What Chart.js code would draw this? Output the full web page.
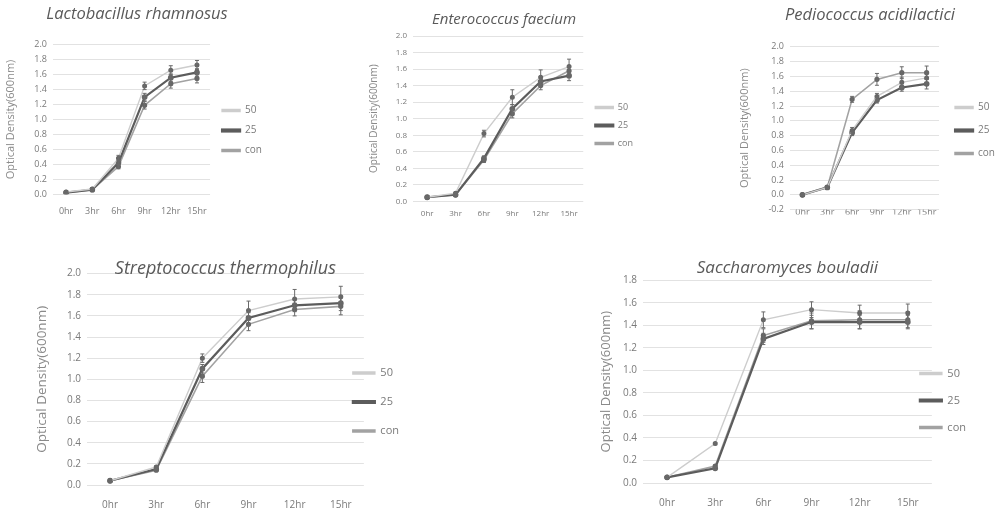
<!DOCTYPE html>
<html>
<head>
<meta charset="utf-8">
<script src="https://cdn.jsdelivr.net/npm/chart.js@4.4.0/dist/chart.umd.min.js"></script>
<style>
body { margin: 0; background: #fff; }
#hoja { position: relative; width: 1002px; height: 516px; overflow: hidden; filter: blur(0.5px); }
canvas { position: absolute; }
</style>
</head>
<body>
<div id="hoja">
  <canvas id="g1" width="280" height="225" style="left:0px;top:0px"></canvas>
  <canvas id="g2" width="330" height="225" style="left:330px;top:0px"></canvas>
  <canvas id="g3" width="322" height="221" style="left:680px;top:0px"></canvas>
  <canvas id="g4" width="520" height="276" style="left:0px;top:240px"></canvas>
  <canvas id="g5" width="462" height="276" style="left:540px;top:240px"></canvas>
</div>
<script>
const horas = ['0hr', '3hr', '6hr', '9hr', '12hr', '15hr'];
const etiquetas = ['50', '25', 'con'];

// Lactobacillus rhamnosus
const lr50 = [0.03, 0.07, 0.48, 1.45, 1.66, 1.73];
const lr25 = [0.02, 0.06, 0.42, 1.30, 1.56, 1.63];
const lrCon = [0.02, 0.06, 0.37, 1.19, 1.48, 1.55];
const lr50Err = [0.01, 0.01, 0.04, 0.05, 0.06, 0.06];
const lr25Err = [0.01, 0.01, 0.03, 0.05, 0.05, 0.05];
const lrConErr = [0.01, 0.01, 0.03, 0.05, 0.06, 0.06];

// Enterococcus faecium
const ef50 = [0.05, 0.10, 0.82, 1.26, 1.50, 1.63];
const ef25 = [0.05, 0.08, 0.52, 1.12, 1.45, 1.52];
const efCon = [0.05, 0.08, 0.50, 1.06, 1.40, 1.58];
const ef50Err = [0.01, 0.01, 0.04, 0.09, 0.09, 0.09];
const ef25Err = [0.01, 0.01, 0.03, 0.05, 0.06, 0.06];
const efConErr = [0.01, 0.01, 0.03, 0.05, 0.05, 0.05];

// Pediococcus acidilactici
const pa50 = [0.00, 0.10, 0.87, 1.33, 1.52, 1.58];
const pa25 = [0.00, 0.10, 0.84, 1.28, 1.45, 1.50];
const paCon = [0.00, 0.10, 1.29, 1.56, 1.65, 1.65];
const pa50Err = [0.01, 0.01, 0.04, 0.04, 0.07, 0.08];
const pa25Err = [0.01, 0.01, 0.04, 0.04, 0.05, 0.07];
const paConErr = [0.01, 0.01, 0.04, 0.08, 0.08, 0.09];

// Streptococcus thermophilus
const st50 = [0.04, 0.17, 1.20, 1.65, 1.76, 1.78];
const st25 = [0.04, 0.15, 1.10, 1.58, 1.70, 1.72];
const stCon = [0.04, 0.14, 1.03, 1.52, 1.66, 1.69];
const st50Err = [0.01, 0.01, 0.04, 0.09, 0.09, 0.10];
const st25Err = [0.01, 0.01, 0.04, 0.05, 0.06, 0.07];
const stConErr = [0.01, 0.01, 0.06, 0.06, 0.06, 0.08];

// Saccharomyces bouladii
const sb50 = [0.05, 0.35, 1.45, 1.54, 1.51, 1.51];
const sb25 = [0.05, 0.13, 1.28, 1.43, 1.43, 1.43];
const sbCon = [0.05, 0.15, 1.31, 1.44, 1.45, 1.45];
const sb50Err = [0.01, 0.01, 0.07, 0.07, 0.07, 0.08];
const sb25Err = [0.01, 0.01, 0.05, 0.06, 0.06, 0.06];
const sbConErr = [0.01, 0.01, 0.06, 0.07, 0.08, 0.07];

const colores = ['#cdcdcd', '#5c5c5c', '#a2a2a2'];
const grosores = [1.4, 2.2, 1.6];

// barras de error (no vienen en Chart.js)
const barrasError = {
    id: 'barrasError',
    afterDatasetsDraw(chart) {
        const ctx = chart.ctx;
        const y = chart.scales.y;
        chart.data.datasets.forEach((ds, i) => {
            const meta = chart.getDatasetMeta(i);
            ctx.save();
            ctx.strokeStyle = '#6a6a6a';
            ctx.lineWidth = 1;
            meta.data.forEach((pt, j) => {
                const e = ds.err[j];
                const arriba = y.getPixelForValue(ds.data[j] + e);
                const abajo = y.getPixelForValue(ds.data[j] - e);
                ctx.beginPath();
                ctx.moveTo(pt.x, arriba); ctx.lineTo(pt.x, abajo);
                ctx.moveTo(pt.x - 2, arriba); ctx.lineTo(pt.x + 2, arriba);
                ctx.moveTo(pt.x - 2, abajo); ctx.lineTo(pt.x + 2, abajo);
                ctx.stroke();
            });
            ctx.restore();
        });
    }
};

// corre la leyenda unos pixeles respecto a donde la pone Chart.js
const corrLeyenda = {
    id: 'corrLeyenda',
    afterLayout(chart, args, opts) {
        const l = chart.legend;
        l.left += opts.dx; l.right += opts.dx;
        l.top += opts.dy; l.bottom += opts.dy;
    }
};

const muestraGrafica = function (id, titulo, valores, errores, op) {
    const ctx = document.getElementById(id).getContext('2d');
    const fuente = 'Open Sans';
    const datasets = valores.map((v, i) => ({
        label: etiquetas[i],
        data: v,
        err: errores[i],
        borderColor: colores[i],
        backgroundColor: colores[i],
        borderWidth: grosores[i],
        pointRadius: 1.8,
        pointBorderColor: '#666',
        pointBackgroundColor: '#666',
        tension: 0
    }));
    return new Chart(ctx, {
        type: 'line',
        data: { labels: horas, datasets: datasets },
        plugins: [barrasError, corrLeyenda],
        options: {
            responsive: false,
            animation: false,
            layout: { padding: op.padding },
            plugins: {
                corrLeyenda: { dx: op.legDx, dy: op.legDy },
                title: {
                    display: true, text: titulo, fullSize: op.tituloAncho,
                    color: '#595959',
                    font: { family: fuente, size: op.tituloTam, style: 'italic', weight: 'normal' },
                    padding: op.tituloPad
                },
                legend: {
                    position: 'right',
                    labels: {
                        boxWidth: op.cajaAncho, boxHeight: 2,
                        color: '#7a7a7a',
                        font: { family: fuente, size: op.letra + 1 },
                        padding: op.legPad
                    }
                },
                tooltip: { enabled: false }
            },
            scales: {
                x: {
                    offset: true,
                    grid: { display: false, drawTicks: false },
                    border: { display: false },
                    ticks: { color: '#7a7a7a', font: { family: fuente, size: op.letra }, padding: op.xPad, maxRotation: 0 }
                },
                y: {
                    min: op.min, max: op.max,
                    afterFit: s => { s.width = op.yAncho; },
                    grid: { color: '#e2e2e2', drawTicks: false },
                    border: { display: false },
                    title: { display: true, text: 'Optical Density(600nm)', color: '#8a8a8a', font: { family: fuente, size: op.yTitulo }, padding: 0 },
                    ticks: { stepSize: 0.2, autoSkip: false, color: '#7a7a7a', font: { family: fuente, size: op.letra }, padding: 6,
                             callback: v => v.toFixed(1) }
                }
            }
        }
    });
};

muestraGrafica('g1', 'Lactobacillus rhamnosus', [lr50, lr25, lrCon], [lr50Err, lr25Err, lrConErr],
    { min: 0, max: 2, padding: { left: 4, right: 10, top: 4, bottom: -4 }, yAncho: 49, yTitulo: 11, tituloTam: 16.5, tituloAncho: true, tituloPad: { top: 0, bottom: 21 },
      letra: 9, xPad: 12, cajaAncho: 18, legPad: 10, legDx: 2, legDy: 14 });
muestraGrafica('g2', 'Enterococcus faecium', [ef50, ef25, efCon], [ef50Err, ef25Err, efConErr],
    { min: 0, max: 2, padding: { left: 38, right: 20, top: 10, bottom: -2 }, yAncho: 45, yTitulo: 10, tituloTam: 15, tituloAncho: true, tituloPad: { top: 1, bottom: 7 },
      letra: 8, xPad: 8, cajaAncho: 18, legPad: 9, legDx: 3, legDy: 7 });
muestraGrafica('g3', 'Pediococcus acidilactici', [pa50, pa25, paCon], [pa50Err, pa25Err, paConErr],
    { min: -0.2, max: 2, padding: { left: 58, right: 0, top: 4, bottom: 6 }, yAncho: 52, yTitulo: 11, tituloTam: 16.5, tituloAncho: true, tituloPad: { top: 1, bottom: 22 },
      letra: 9, xPad: -3, cajaAncho: 18, legPad: 13, legDx: 3, legDy: 21 });
muestraGrafica('g4', 'Streptococcus thermophilus', [st50, st25, stCon], [st50Err, st25Err, stConErr],
    { min: 0, max: 2, padding: { left: 34, right: 82, top: 15, bottom: -9 }, yAncho: 53, yTitulo: 13.5, tituloTam: 18, tituloAncho: false, tituloPad: { top: 3, bottom: -6 },
      letra: 10, xPad: 14, cajaAncho: 22, legPad: 18, legDx: -29, legDy: 12 });
muestraGrafica('g5', 'Saccharomyces bouladii', [sb50, sb25, sbCon], [sb50Err, sb25Err, sbConErr],
    { min: 0, max: 1.8, padding: { left: 58, right: -2, top: 18, bottom: -7 }, yAncho: 45, yTitulo: 13, tituloTam: 17, tituloAncho: false, tituloPad: { top: 0, bottom: 2 },
      letra: 10, xPad: 14, cajaAncho: 22, legPad: 16, legDx: -28, legDy: 10 });
</script>
</body>
</html>
